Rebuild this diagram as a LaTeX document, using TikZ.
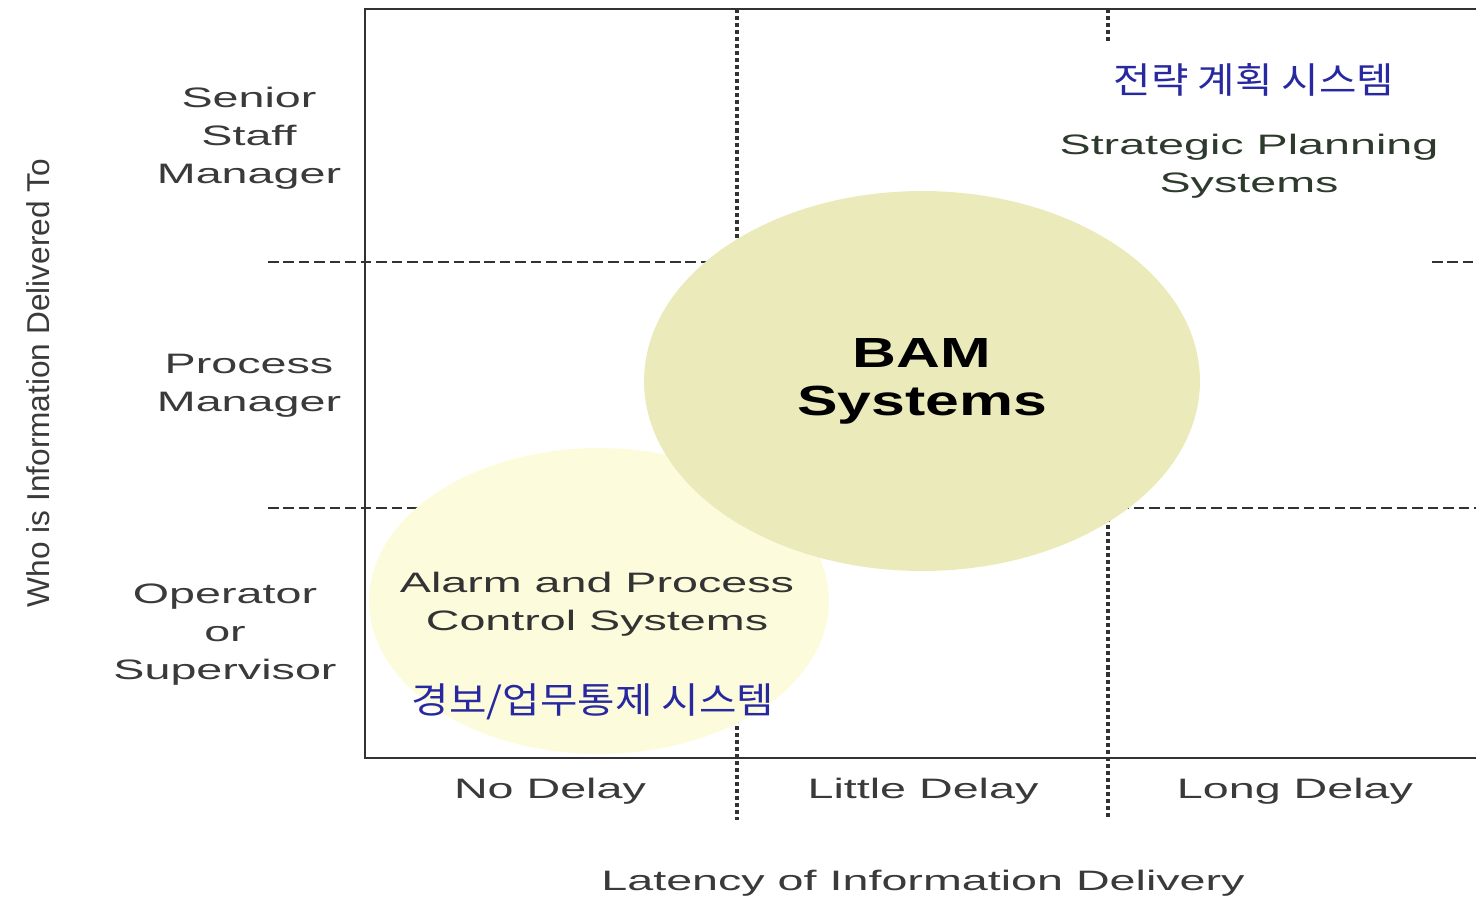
\documentclass[tikz,border=0pt]{standalone}
\usepackage{fontspec}
\usepackage{xcolor}
\usepackage{tikz}
\usetikzlibrary{shapes.geometric}

\setmainfont{Liberation Sans}
\newfontfamily\widefont[FakeStretch=1.66]{Liberation Sans}
\newfontfamily\bamfont[FakeStretch=1.44]{Liberation Sans}
\newfontfamily\kofont[FakeStretch=1.13]{Noto Sans CJK KR}

\definecolor{bamfill}{RGB}{235,234,186}
\definecolor{alarmfill}{RGB}{252,252,221}
\definecolor{kblue}{RGB}{40,40,160}
\definecolor{txtgray}{RGB}{58,58,58}
\definecolor{stratgray}{RGB}{45,58,45}
\definecolor{linegray}{RGB}{50,50,50}

\begin{document}
\begin{tikzpicture}[
		x = 0.02cm, y = -0.02cm,
		every node/.style = {inner sep = 0pt},
		lbl/.style = {anchor = north, align = center, text = txtgray,
			font = \widefont\fontsize{16}{21.6}\selectfont},
		kor/.style = {anchor = north, text = kblue,
			font = \kofont\fontsize{20.5}{24}\selectfont},
		hgrid/.style = {draw = linegray, line width = 1.3pt, dash pattern = on 6pt off 2.8pt},
		vgrid/.style = {draw = linegray, line width = 2pt, dash pattern = on 2.3pt off 1.7pt},
		boxline/.style = {draw = linegray, line width = 1.3pt}
		]
		\useasboundingbox (0,0) rectangle (1476,897);
		
		% grid lines
		\coordinate (h1a) at (268,262);
		\coordinate (h1b) at (1100,262);
		\coordinate (h1c) at (1432,262);
		\coordinate (h1d) at (1476,262);
		\coordinate (h2a) at (268,508);
		\coordinate (h2b) at (1476,508);
		\coordinate (v1a) at (737,9);
		\coordinate (v1b) at (737,820);
		\coordinate (v2a) at (1108,9);
		\coordinate (v2b) at (1108,42);
		\coordinate (v2c) at (1108,300);
		\coordinate (v2d) at (1108,820);
		\path[hgrid] (h1a) -- (h1b);
		\path[hgrid] (h1c) -- (h1d);
		\path[hgrid] (h2a) -- (h2b);
		\path[vgrid] (v1a) -- (v1b);
		\path[vgrid] (v2a) -- (v2b);
		\path[vgrid] (v2c) -- (v2d);
		
		% circles
		\node[ellipse, fill = alarmfill, minimum width = 9.2cm, minimum height = 6.12cm] (alarm) at (599,601) {};
		\node[ellipse, fill = bamfill, minimum width = 11.12cm, minimum height = 7.6cm,
			align = center, font = \bamfont\bfseries\fontsize{24}{27.3}\selectfont] (bam) at (922,381) {BAM\\Systems};
		
		% frame
		\coordinate (tr) at (1476,9);
		\coordinate (bl) at (365,758);
		\coordinate (br) at (1476,758);
		\draw[boxline] (tr) -| (bl) -- (br);
		
		% Labels
		\node[lbl] (senior) at (249,87) {Senior\\Staff\\Manager};
		\node[lbl] (process) at (249,354) {Process\\Manager};
		\node[lbl] (operator) at (225,584) {Operator\\or\\Supervisor};
		\node[lbl] (nodelay) at (550,778) {No Delay};
		\node[lbl] (little) at (923,778) {Little Delay};
		\node[lbl] (long) at (1295,778) {Long Delay};
		\node[lbl] (latency) at (923,870) {Latency of Information Delivery};
		\node[rotate = 90, text = txtgray, font = \fontsize{18}{20}\selectfont] (who) at (38,383) {Who is Information Delivered To};
		
		\node[lbl, text = stratgray] (strat) at (1249,134) {Strategic Planning\\Systems};
		\node[kor] (stratko) at (1254,63) {전략 계획 시스템};
		\node[lbl, text = black!80] (alarmtxt) at (597,572) {Alarm and Process\\Control Systems};
		\node[kor] (alarmko) at (593,683) {경보/업무통제 시스템};
	\end{tikzpicture}
\end{document}
